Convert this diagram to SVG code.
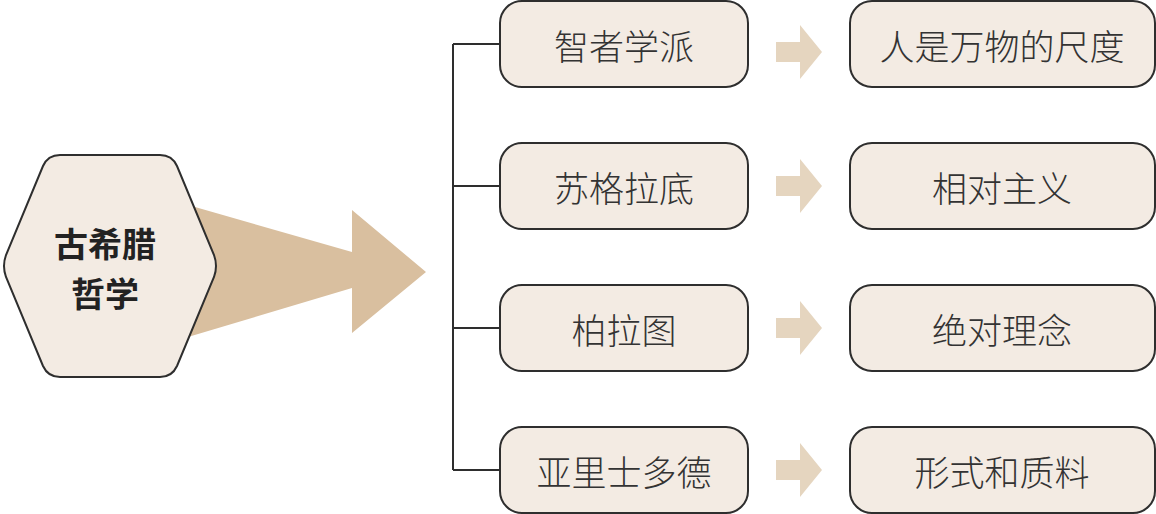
<svg xmlns="http://www.w3.org/2000/svg" width="1156" height="514" viewBox="0 0 1156 514">
<style>
.box{fill:#f3ebe3;stroke:#2e2e2e;stroke-width:2}
.lbl{font-family:"Noto Sans CJK SC","Noto Sans",sans-serif;font-size:35px;font-weight:300;fill:#333;text-anchor:middle;dominant-baseline:central}
.ttl{font-family:"Noto Sans CJK SC","Noto Sans",sans-serif;font-size:34px;font-weight:bold;fill:#222;text-anchor:middle;dominant-baseline:central}
.sa{fill:#e5d5bf}
.conn{fill:none;stroke:#2e2e2e;stroke-width:2}
</style>
<defs>
<polygon id="sarrow" class="sa" points="0,-10 24,-10 24,-27 46,0 24,27 24,10 0,10"/>
</defs>
<g id="big-arrow">
<polygon fill="#d9bf9f" points="195,207 352,252 352,210 426,272 352,333 352,288 188,337"/>
</g>
<g id="hub">
<path class="box" d="M60,155 L160,155 Q172,155 177,166 L214,255 Q218,266 214,277 L177,366 Q172,377 160,377 L60,377 Q48,377 43,366 L6,277 Q2,266 6,255 L43,166 Q48,155 60,155 Z"/>
<text class="ttl" x="105" y="242">古希腊</text>
<text class="ttl" x="105" y="292">哲学</text>
</g>
<g id="connectors">
<path class="conn" d="M453,44 V470 M453,44 H500 M453,186 H500 M453,328 H500 M453,470 H500"/>
<use href="#sarrow" x="776" y="52"/>
<use href="#sarrow" x="776" y="186"/>
<use href="#sarrow" x="776" y="328"/>
<use href="#sarrow" x="776" y="470"/>
</g>
<g id="n1"><rect class="box" x="500" y="1" width="248" height="86" rx="22"/><text class="lbl" x="624" y="44">智者学派</text></g>
<g id="n2"><rect class="box" x="500" y="143" width="248" height="86" rx="22"/><text class="lbl" x="624" y="186">苏格拉底</text></g>
<g id="n3"><rect class="box" x="500" y="285" width="248" height="86" rx="22"/><text class="lbl" x="624" y="328">柏拉图</text></g>
<g id="n4"><rect class="box" x="500" y="427" width="248" height="86" rx="22"/><text class="lbl" x="624" y="470">亚里士多德</text></g>
<g id="r1"><rect class="box" x="850" y="1" width="305" height="86" rx="22"/><text class="lbl" x="1002" y="44">人是万物的尺度</text></g>
<g id="r2"><rect class="box" x="850" y="143" width="305" height="86" rx="22"/><text class="lbl" x="1002" y="186">相对主义</text></g>
<g id="r3"><rect class="box" x="850" y="285" width="305" height="86" rx="22"/><text class="lbl" x="1002" y="328">绝对理念</text></g>
<g id="r4"><rect class="box" x="850" y="427" width="305" height="86" rx="22"/><text class="lbl" x="1002" y="470">形式和质料</text></g>
</svg>
